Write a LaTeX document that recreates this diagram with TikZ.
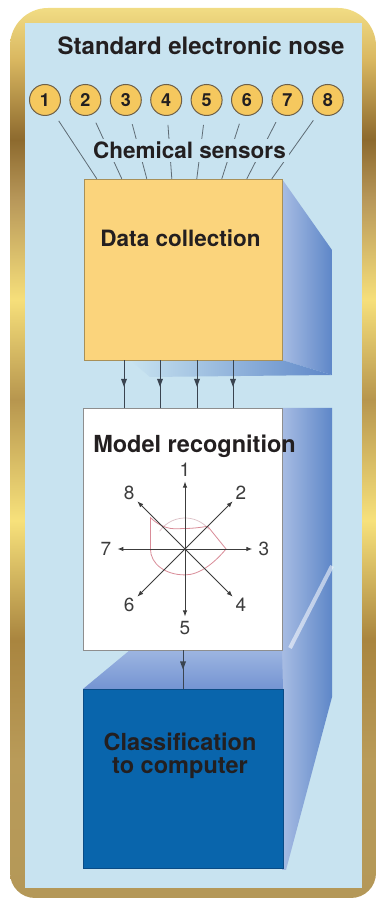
\documentclass[tikz,border=0pt]{standalone}
\usepackage{fontspec}
\setmainfont{TeX Gyre Heros}
\usetikzlibrary{arrows.meta,calc}
\definecolor{panel}{HTML}{C8E3F0}
\definecolor{ink}{HTML}{231F20}
\definecolor{sensorfill}{HTML}{F5C85E}
\definecolor{sensorrim}{HTML}{6E6048}
\definecolor{wiregray}{HTML}{5E6B74}
\definecolor{flowgray}{HTML}{3A4450}
\definecolor{spokegray}{HTML}{3C3C3C}
\definecolor{radarpink}{HTML}{D98C98}
\definecolor{faintpink}{HTML}{DCC0C6}
\definecolor{datafill}{HTML}{FBD47C}
\definecolor{datarim}{HTML}{A89058}
\definecolor{modelrim}{HTML}{8E8E8E}
\definecolor{classfill}{HTML}{0965AC}
\definecolor{classrim}{HTML}{0A4C86}
\definecolor{sideA}{HTML}{A7BCE3}
\definecolor{sideB}{HTML}{5E87C8}
\definecolor{topA}{HTML}{9DB5E1}
\definecolor{topB}{HTML}{7494D2}
% gold frame, bottom to top
\definecolor{gB}{HTML}{B49858}
\definecolor{gS}{HTML}{B99B59}
\definecolor{gR}{HTML}{A9853F}
\definecolor{gQ}{HTML}{F7E17B}
\definecolor{gP}{HTML}{B7964E}
\definecolor{gO}{HTML}{F6DF7A}
\definecolor{gN}{HTML}{B8985A}
\definecolor{gM}{HTML}{8D6A2E}
\definecolor{gL}{HTML}{D9B760}
\definecolor{gT}{HTML}{F1DC84}
\pgfdeclareverticalshading{goldframe}{100bp}{color(0bp)=(gB); color(25bp)=(gB);
  color(32.75bp)=(gS); color(39.5bp)=(gR); color(46.2bp)=(gQ); color(53bp)=(gP);
  color(58.6bp)=(gO); color(64.2bp)=(gN); color(67.6bp)=(gM); color(72.1bp)=(gL);
  color(75bp)=(gT); color(100bp)=(gT)}
\begin{document}
\begin{tikzpicture}[x=1pt,y=1pt,
  sensor/.style={circle,draw=sensorrim,line width=1pt,fill=sensorfill,minimum size=31pt,
    inner sep=0pt,font=\fontsize{18}{18}\selectfont\bfseries,text=ink},
  feeler/.style={draw=wiregray,line width=0.8pt},
  flow/.style={draw=flowgray,line width=0.8pt},
  spoke/.style={draw=spokegray,line width=0.9pt,-{Latex[length=6pt,width=4.5pt]}},
  heading/.style={font=\fontsize{23.5}{23}\selectfont\bfseries,text=ink},
  subheading/.style={font=\fontsize{22.5}{23}\selectfont\bfseries,text=ink}]
\useasboundingbox (0,0) rectangle (377,900);
% frame and panel
\shade[shading=goldframe] (193,892) [rounded corners=38pt] -- (376,892) -- (376,450)
  [rounded corners=25pt] -- (376,2) -- (10,2) -- (10,450) [rounded corners=38pt] -- (10,892) -- cycle;
\fill[panel] (25,12) rectangle (362,877);
% slab behind the boxes
\shade[left color=sideA,right color=sideB] (282,721) -- (332,650) -- (332,525) -- (282,540) -- cycle;
\shade[left color=panel,right color=sideB] (130,540) -- (282,540) -- (332,525) -- (150,523) -- cycle;
\shade[left color=sideA,right color=sideB] (282,492) -- (332,492) -- (332,203) -- (286,30) -- (282,30) -- cycle;
\shade[top color=topA,bottom color=topB] (83,211) -- (130,250) -- (282,250) -- (283,211) -- cycle;
\draw[white,opacity=0.55,line width=4pt] (332,334) -- (290,252);
% boxes
\node[draw=datarim,fill=datafill,minimum width=198pt,minimum height=181pt,inner sep=0pt] (data) at (183,630.5) {};
\node[draw=modelrim,fill=white,minimum width=199pt,minimum height=242pt,inner sep=0pt] (model) at (182.5,371) {};
\node[draw=classrim,fill=classfill,minimum width=200pt,minimum height=179pt,inner sep=0pt] (class) at (183,121.5) {};
\node[heading,font=\fontsize{24}{24}\selectfont\bfseries,anchor=base] (title) at (201,845) {Standard electronic nose};
% sensors
\foreach \i in {1,...,8}
  \node[sensor] (s\i) at ({45+40.4*(\i-1)},800) {\i};
\foreach \i in {1,...,8} {
  \coordinate (d\i) at ($(data.north west)+({13+25*(\i-1)},0)$);
  \draw[feeler,shorten <=25pt] (s\i.center) -- (d\i);
}
\node[subheading,anchor=base,fill=panel,inner sep=3pt] (chem) at (189.5,741) {Chemical sensors};
\node[subheading,anchor=base] (datatxt) at (180.5,653) {Data collection};
\node[heading,anchor=base] (modeltxt) at (194.5,447) {Model recognition};
\node[heading,align=center] (classtxt) at (180,144) {Classification\\to computer};
% flows, arrowhead half way
\foreach \x in {124,160,197,233} {
  \coordinate (out\x) at (\x,0 |- data.south);
  \coordinate (in\x) at (\x,0 |- model.north);
  \coordinate (mid\x) at ($(out\x)!0.56!(in\x)$);
  \draw[flow] (out\x) -- (in\x);
  \fill[flowgray] (mid\x) -- ++(-3,8) -- ++(6,0) -- cycle;
}
\coordinate (outm) at (183,0 |- model.south);
\coordinate (inc) at (183,0 |- class.north);
\coordinate (midc) at ($(outm)!0.5!(inc)$);
\draw[flow] (outm) -- (inc);
\fill[flowgray] (midc) -- ++(-3,8) -- ++(6,0) -- cycle;
% radar
\coordinate (hub) at (185,351);
\draw[faintpink,line width=0.7pt] ($(hub)+(145:31)$) arc (145:40:31);
\begin{scope}[shift={(hub)},scale=1.08]
\draw[radarpink,line width=0.8pt] (-32,29) .. controls (-18,16) and (-8,19) .. (0,19)
  .. controls (8,19) and (14,20) .. (21,21) -- (38,0) .. controls (28,-12) and (14,-24) .. (0,-24)
  .. controls (-18,-24) and (-32,-14) .. (-32,0) -- cycle;
\end{scope}
\foreach \a/\n in {90/1,45/2,0/3,-45/4,-90/5,-135/6,180/7,135/8} {
  \node[circle,inner sep=2pt,font=\fontsize{19}{19}\selectfont,text=spokegray] (r\n) at ($(hub)+(\a:79)$) {\n};
  \draw[spoke] (hub) -- (r\n);
}
\end{tikzpicture}
\end{document}
